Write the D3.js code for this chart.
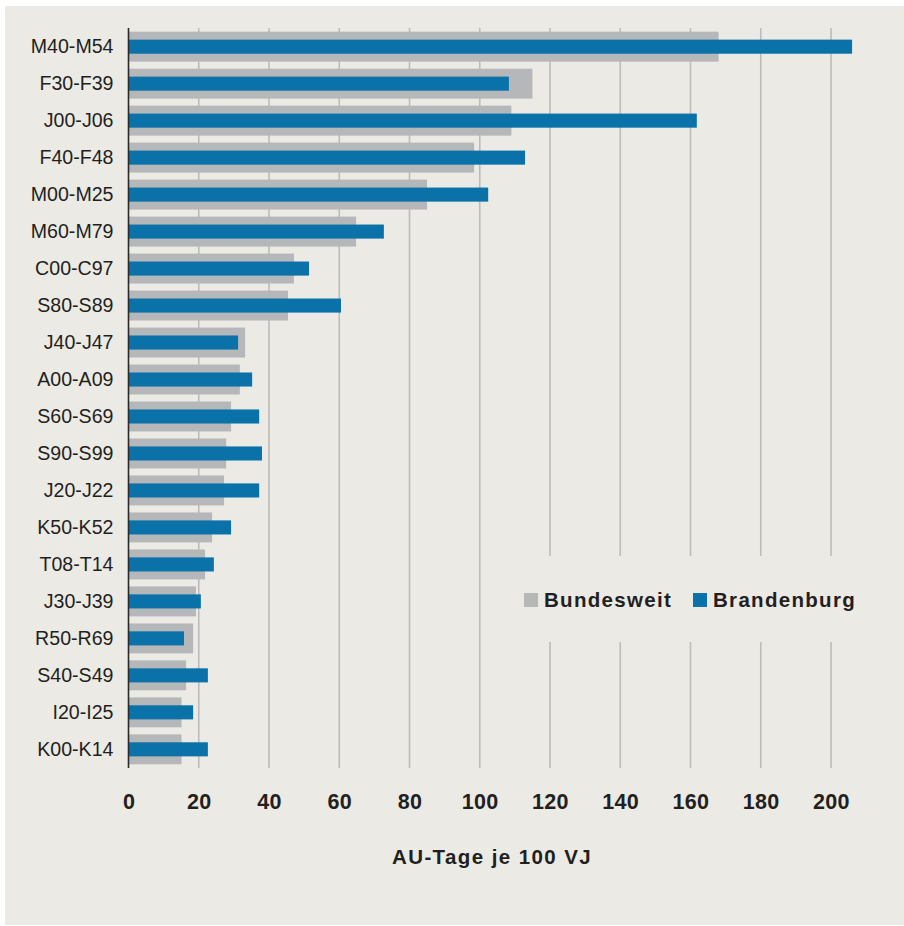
<!DOCTYPE html>
<html>
<head>
<meta charset="utf-8">
<script src="https://cdn.jsdelivr.net/npm/d3@7"></script>
<style>
  html, body { margin: 0; padding: 0; background: #ffffff; }
  svg { display: block; font-family: "Liberation Sans", Arial, sans-serif; }
</style>
</head>
<body>
<svg id="chart" width="904" height="926"></svg>
<script>
// ICD diagnosis groups, sorted by nationwide sick-leave days
const categories = ["M40-M54", "F30-F39", "J00-J06", "F40-F48", "M00-M25", "M60-M79",
  "C00-C97", "S80-S89", "J40-J47", "A00-A09", "S60-S69", "S90-S99", "J20-J22",
  "K50-K52", "T08-T14", "J30-J39", "R50-R69", "S40-S49", "I20-I25", "K00-K14"];

// AU-Tage je 100 VJ
const bundesweit = [168, 115, 109, 98.4, 85, 64.8, 47.1, 45.4, 33.2, 31.7, 29.2, 27.8, 27.2,
  23.8, 21.8, 19.2, 18.4, 16.4, 15.1, 15.1];
const brandenburg = [206, 108.3, 161.8, 112.9, 102.4, 72.7, 51.4, 60.5, 31.2, 35.2, 37.2, 38.0, 37.2,
  29.2, 24.3, 20.6, 15.8, 22.6, 18.4, 22.6];

const tickValues = [0, 20, 40, 60, 80, 100, 120, 140, 160, 180, 200];
const seriesNames = ["Bundesweit", "Brandenburg"];
const axisTitle = "AU-Tage je 100 VJ";

const colors = { bg: "#ebeae5", gray: "#b6b7b9", blue: "#0b72a9", grid: "#bcbcbc", text: "#231f20" };

const svg = d3.select("#chart");

// panel background
svg.append("rect").attr("x", 5).attr("y", 6).attr("width", 899).attr("height", 919)
  .attr("fill", colors.bg);

const x = d3.scaleLinear().domain([0, 200]).range([128.5, 831]);
const y = d3.scaleBand().domain(categories).range([28, 768])
  .paddingInner(0.19).paddingOuter(0.1);

// vertical gridlines
svg.append("g").selectAll("line").data(tickValues.filter(d => d > 0)).join("line")
  .attr("x1", d => x(d)).attr("x2", d => x(d))
  .attr("y1", 28).attr("y2", 768)
  .attr("stroke", colors.grid).attr("stroke-width", 1.6);

// legend panel covers the gridlines behind it
svg.append("rect").attr("x", 508).attr("y", 556).attr("width", 362).attr("height", 86)
  .attr("fill", colors.bg);

// nationwide bars (full band)
svg.append("g").selectAll("rect").data(categories).join("rect")
  .attr("x", x(0))
  .attr("y", d => y(d))
  .attr("width", (d, i) => x(bundesweit[i]) - x(0))
  .attr("height", y.bandwidth())
  .attr("fill", colors.gray);

// Brandenburg bars (narrow, centred)
const innerH = y.bandwidth() * 0.47;
svg.append("g").selectAll("rect").data(categories).join("rect")
  .attr("x", x(0))
  .attr("y", d => y(d) + (y.bandwidth() - innerH) / 2)
  .attr("width", (d, i) => x(brandenburg[i]) - x(0))
  .attr("height", innerH)
  .attr("fill", colors.blue);

// category axis
const yAxis = svg.append("g").attr("transform", `translate(${x(0)},0)`)
  .call(d3.axisLeft(y).tickSize(0).tickPadding(15));
yAxis.select(".domain").attr("stroke", "#2a2a2a").attr("stroke-width", 1.6)
  .attr("d", "M0,28V768");
yAxis.selectAll("text").attr("font-size", 19.6).attr("fill", colors.text)
  .attr("font-family", "'Liberation Sans', Arial, sans-serif");

// value axis labels
const xAxis = svg.append("g").attr("transform", "translate(0,768)")
  .call(d3.axisBottom(x).tickValues(tickValues).tickSize(0).tickPadding(26).tickFormat(d3.format("d")));
xAxis.select(".domain").remove();
xAxis.selectAll("text").attr("font-size", 21.5).attr("font-weight", "bold")
  .attr("fill", colors.text).attr("letter-spacing", 0.3)
  .attr("font-family", "'Liberation Sans', Arial, sans-serif");

// axis title
svg.append("text").attr("x", 492).attr("y", 864).attr("text-anchor", "middle")
  .attr("font-size", 20.5).attr("font-weight", "bold").attr("letter-spacing", 1.4)
  .attr("fill", colors.text).text(axisTitle);

// legend
const legendItems = [
  { name: seriesNames[0], color: colors.gray, x: 524, tx: 544 },
  { name: seriesNames[1], color: colors.blue, x: 693, tx: 713 }
];
const lg = svg.append("g");
lg.selectAll("rect").data(legendItems).join("rect")
  .attr("x", d => d.x).attr("y", 593).attr("width", 14).attr("height", 14)
  .attr("fill", d => d.color);
lg.selectAll("text").data(legendItems).join("text")
  .attr("x", d => d.tx).attr("y", 607)
  .attr("font-size", 20.5).attr("font-weight", "bold").attr("letter-spacing", 1.3)
  .attr("fill", colors.text).text(d => d.name);
</script>
</body>
</html>
